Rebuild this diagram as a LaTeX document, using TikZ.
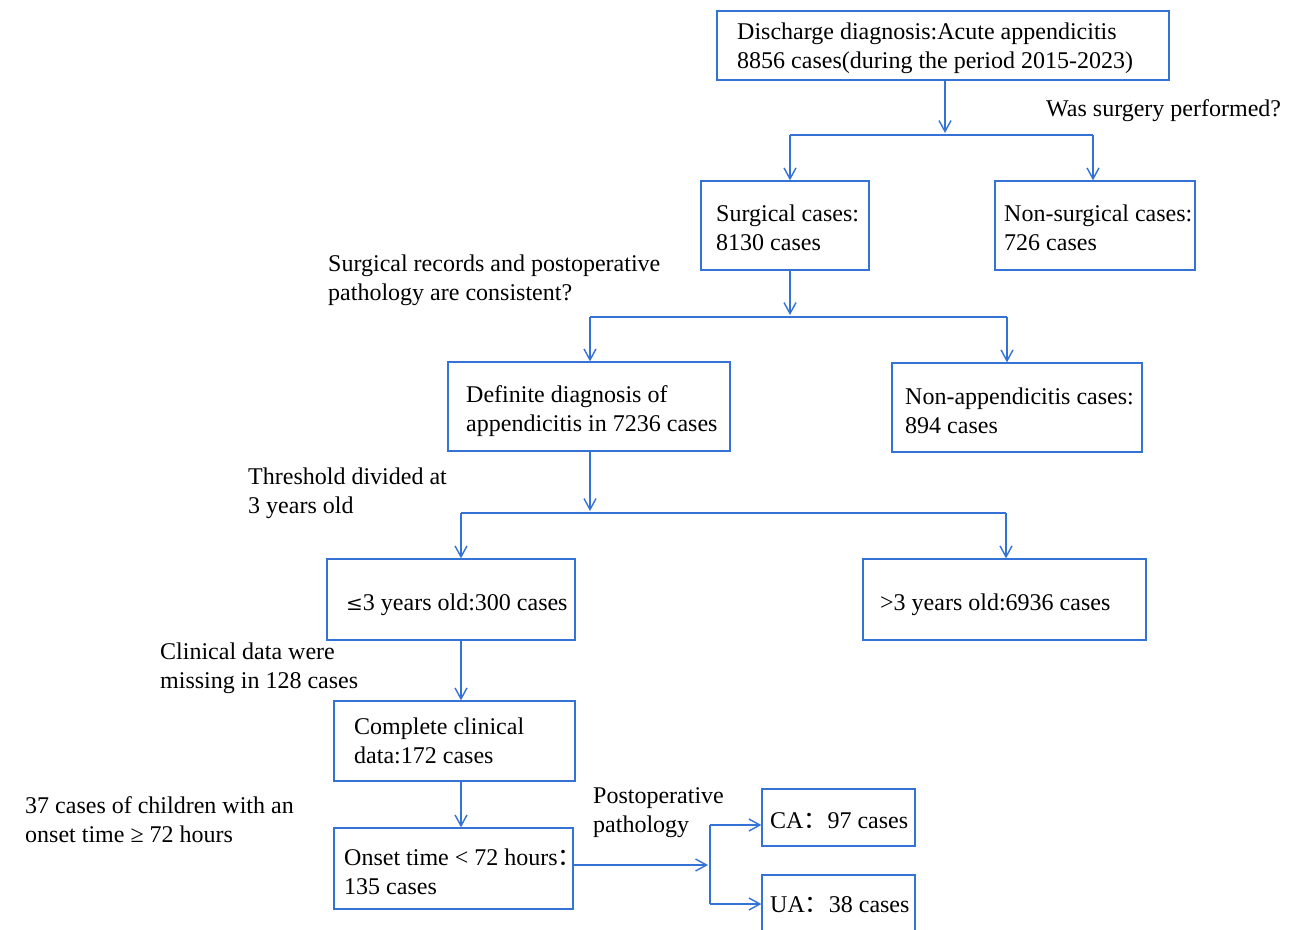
\documentclass[tikz,border=0pt]{standalone}
\usepackage{fontspec}
\setmainfont{Liberation Serif}
\newfontfamily\cjk{Noto Sans CJK SC}
\usetikzlibrary{arrows.meta}
\definecolor{bl}{RGB}{52,114,214}
\tikzset{
  box/.style={draw=bl, line width=1.3pt, minimum width=#1, inner sep=0pt},
  txt/.style={font=\fontsize{24}{29}\selectfont, align=left, inner sep=0pt, anchor=west, text=black, yshift=-2.5pt},
  ln/.style={draw=bl, line width=1.4pt},
  arr/.style={ln, -{Straight Barb[length=11pt,width=12pt,line width=1.4pt]}}
}
\begin{document}
\begin{tikzpicture}[x=1pt,y=-1pt]
\useasboundingbox (0,0) rectangle (1290,929);
\fill[white] (0,0) rectangle (1290,929);
\clip (0,0) rectangle (1290,929);
% boxes
\node[box=452pt, minimum height=69pt] (b1) at (943,45.5) {};
\node[txt] (t1) at (737,45.5) {Discharge diagnosis:Acute appendicitis\\8856 cases(during the period 2015-2023)};
\node[txt] (q1) at (1046,108) {Was surgery performed?};

\node[box=168pt, minimum height=89pt] (b2) at (785,225.5) {};
\node[txt] (t2) at (716,225.5) {Surgical cases:\\8130 cases};
\node[box=200pt, minimum height=89pt] (b3) at (1095,225.5) {};
\node[txt] (t3) at (1004,225.5) {Non-surgical cases:\\726 cases};

\node[txt] (q2) at (328,277.5) {Surgical records and postoperative\\pathology are consistent?};

\node[box=282pt, minimum height=89pt] (b4) at (589,406.5) {};
\node[txt] (t4) at (466,408.5) {Definite diagnosis of\\appendicitis in 7236 cases};
\node[box=250pt, minimum height=89pt] (b5) at (1017,407.5) {};
\node[txt] (t5) at (905,408.5) {Non-appendicitis cases:\\894 cases};

\node[txt] (q3) at (248,490.5) {Threshold divided at\\3 years old};

\node[box=248pt, minimum height=81pt] (b6) at (451,599.5) {};
\node[txt] (t6) at (346,602) {{\fontspec{DejaVu Serif}\fontsize{20}{24}\selectfont ≤}3 years old:300 cases};
\node[box=283pt, minimum height=81pt] (b7) at (1004.5,599.5) {};
\node[txt] (t7) at (880,602) {>3 years old:6936 cases};

\node[txt] (q4) at (160,665.5) {Clinical data were\\missing in 128 cases};

\node[box=241pt, minimum height=80pt] (b8) at (454.5,741) {};
\node[txt] (t8) at (354,738.5) {Complete clinical\\data:172 cases};

\node[txt] (q5) at (25,817.5) {37 cases of children with an\\onset time ≥ 72 hours};

\node[box=239pt, minimum height=81pt] (b9) at (453.5,868.5) {};
\node[txt] (t9) at (344,869) {Onset time < 72 hours{\cjk ：}\\135 cases};

\node[txt] (q6) at (593,810.5) {Postoperative\\pathology};

\node[box=153pt, minimum height=57pt] (b10) at (838.5,817.5) {};
\node[txt] (t10) at (770,818) {CA{\cjk ：}97 cases};
\node[box=153pt, minimum height=70pt] (b11) at (838.5,910) {};
\node[txt] (t11) at (770,902) {UA{\cjk ：}38 cases};

% connectors
\coordinate (j1) at (945,133);
\coordinate (j1l) at (790,135);
\coordinate (j1r) at (1093,135);
\draw[arr] (b1.south -| j1) -- (j1);
\draw[ln] (j1l) -- (j1r);
\draw[arr] (j1l) -- (j1l |- b2.north);
\draw[arr] (j1r) -- (j1r |- b3.north);

\coordinate (j2) at (790,315);
\coordinate (j2l) at (590,317);
\coordinate (j2r) at (1007,317);
\draw[arr] (b2.south -| j2) -- (j2);
\draw[ln] (j2l) -- (j2r);
\draw[arr] (j2l) -- (j2l |- b4.north);
\draw[arr] (j2r) -- (j2r |- b5.north);

\coordinate (j3) at (590,511);
\coordinate (j3l) at (461,513);
\coordinate (j3r) at (1006,513);
\draw[arr] (b4.south -| j3) -- (j3);
\draw[ln] (j3l) -- (j3r);
\draw[arr] (j3l) -- (j3l |- b6.north);
\draw[arr] (j3r) -- (j3r |- b7.north);

\coordinate (c6) at (461,640);
\draw[arr] (b6.south -| c6) -- (b8.north -| c6);
\draw[arr] (b8.south -| c6) -- (b9.north -| c6);

\coordinate (j4) at (708,865);
\coordinate (j4t) at (710,825);
\coordinate (j4b) at (710,904);
\draw[arr] (b9.east |- j4) -- (j4);
\draw[ln] (j4t) -- (j4b);
\draw[arr] (j4t) -- (b10.west |- j4t);
\draw[arr] (j4b) -- (b11.west |- j4b);
\end{tikzpicture}
\end{document}
